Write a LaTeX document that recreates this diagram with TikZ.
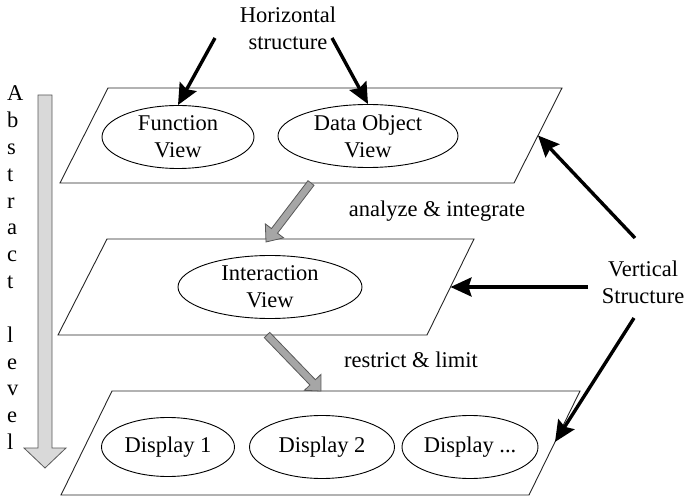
\documentclass[tikz,border=0pt]{standalone}
\usepackage{fontspec}
\setmainfont{Liberation Serif}
\usetikzlibrary{calc,arrows.meta,shapes.geometric}
% block arrow: #1 style, #2 tail, #3 tip, #4 shaft half width, #5 head half width, #6 head length
\newcommand\blockarrow[6]{%
  \coordinate (hbtmp) at ($(#3)!#6pt!(#2)$);
  \draw[#1] ($(#2)!#4pt!90:(#3)$) -- ($(hbtmp)!#4pt!90:(#3)$) -- ($(hbtmp)!#5pt!90:(#3)$)
    -- (#3) -- ($(hbtmp)!#5pt!-90:(#3)$) -- ($(hbtmp)!#4pt!-90:(#3)$) -- ($(#2)!#4pt!-90:(#3)$) -- cycle;}
\begin{document}
\begin{tikzpicture}[x=1pt,y=-1pt,
  font=\fontsize{22.5}{27}\selectfont,
  plane/.style={draw=black!85, line width=0.9pt},
  view/.style={ellipse, draw, line width=0.9pt, inner sep=0pt, align=center},
  blk/.style={line width=3.4pt, -{Stealth[length=21pt,width=19pt,inset=3pt]}},
  garrow/.style={fill=black!35, draw=black!65, line width=0.8pt},
  abarrow/.style={fill=black!15, draw=black!65, line width=0.8pt},
  letter/.style={anchor=base west, inner sep=0pt}]
\path[use as bounding box] (0,0) rectangle (686,497);

% planes
\coordinate (t1) at (108,88);  \coordinate (t2) at (562,88);
\coordinate (t3) at (514,183); \coordinate (t4) at (60,183);
\coordinate (m1) at (107,239); \coordinate (m2) at (474,239);
\coordinate (m3) at (427,335); \coordinate (m4) at (58,335);
\coordinate (b1) at (112,391); \coordinate (b2) at (580,391);
\coordinate (b3) at (529,495); \coordinate (b4) at (61,495);
\draw[plane] (t1) -- (t2) -- (t3) -- (t4) -- cycle;
\draw[plane] (m1) -- (m2) -- (m3) -- (m4) -- cycle;
\draw[plane] (b1) -- (b2) -- (b3) -- (b4) -- cycle;

% views
\node[view, minimum width=152pt, minimum height=63pt] (fv) at (178,137) {Function\\View};
\node[view, minimum width=180pt, minimum height=63pt] (dv) at (368,136) {Data Object\\View};
\node[view, minimum width=184pt, minimum height=63pt] (iv) at (270,287) {Interaction\\View};
\node[view, minimum width=133pt, minimum height=59pt] (d1) at (168,447) {Display 1};
\node[view, minimum width=145pt, minimum height=63pt] (d2) at (322,447) {Display 2};
\node[view, minimum width=136pt, minimum height=63pt] (d3) at (470,447) {Display ...};

% labels
\node[align=center] (hs) at (288,28) {Horizontal\\structure};
\node[align=center] (vs) at (643,282) {Vertical\\Structure};
\node[anchor=base] (ai) at (437,217) {analyze \& integrate};
\node[anchor=base] (rl) at (411,367) {restrict \& limit};

% abstract level letters
\foreach \ch/\k in {A/0,b/1,s/2,t/3,r/4,a/5,c/6,t/7,l/9,e/10,v/11,e/12,l/13}
  \node[letter] (abs\k) at (7,{101+\k*26.8}) {\ch};

% abstract level arrow
\coordinate (a1s) at (45,95); \coordinate (a1e) at (45,468);
\blockarrow{abarrow}{a1s}{a1e}{7}{21}{20}

% gray block arrows between planes
\coordinate (g1s) at (311,183); \coordinate (g1e) at (266,242);
\blockarrow{garrow}{g1s}{g1e}{3.8}{11.5}{14}
\coordinate (g2s) at (267,335); \coordinate (g2e) at (321,391);
\blockarrow{garrow}{g2s}{g2e}{3.8}{11.5}{12}

% horizontal structure arrows
\coordinate (h1s) at (215,38); \coordinate (h2s) at (332,38);
\draw[blk] (h1s) -- (fv.north);
\draw[blk] (h2s) -- (dv.north);

% vertical structure arrows
\coordinate (tr) at ($(t2)!0.5!(t3)$);
\coordinate (mr) at ($(m2)!0.5!(m3)$);
\coordinate (br) at ($(b2)!0.49!(b3)$);
\coordinate (v1s) at (635,238); \coordinate (v2s) at (588,287); \coordinate (v3s) at (634,318);
\draw[blk] (v1s) -- (tr);
\draw[blk] (v2s) -- (mr);
\draw[blk] (v3s) -- (br);
\end{tikzpicture}
\end{document}
